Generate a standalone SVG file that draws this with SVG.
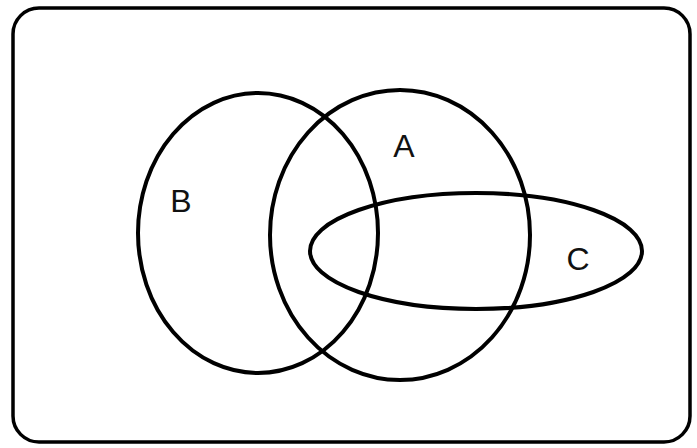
<svg xmlns="http://www.w3.org/2000/svg" width="697" height="448" viewBox="0 0 697 448">
<style>
.s{fill:none;stroke:#000;stroke-width:4}
.t{font-family:"Liberation Sans",Arial,sans-serif;font-size:32px;fill:#111;text-anchor:middle}
</style>
<rect x="0" y="0" width="697" height="448" fill="#fff"/>
<g id="universe"><rect class="s" x="13" y="8" width="677" height="434" rx="26" ry="26" style="stroke-width:3.5"/></g>
<g id="B"><ellipse class="s" cx="258" cy="233" rx="120" ry="140"/><text class="t" x="181" y="212">B</text></g>
<g id="A"><ellipse class="s" cx="400" cy="235" rx="130" ry="145"/><text class="t" x="404" y="157">A</text></g>
<g id="C"><ellipse class="s" cx="476" cy="251" rx="166" ry="58"/><text class="t" x="578" y="270">C</text></g>
<g id="connectors"/>
</svg>
